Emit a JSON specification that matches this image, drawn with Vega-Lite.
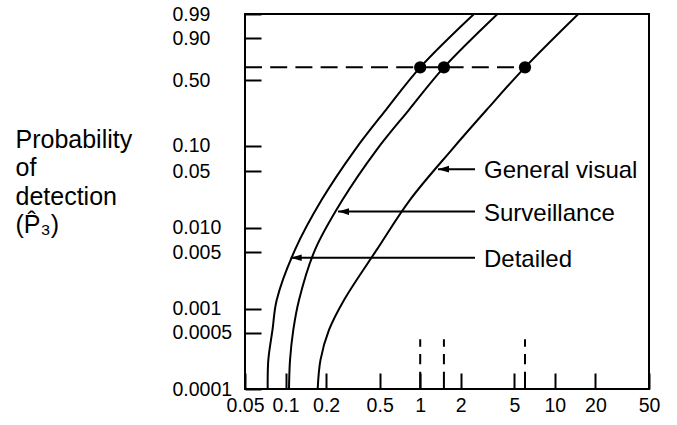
{
  "$schema": "https://vega.github.io/schema/vega-lite/v6.json",
  "width": 404,
  "height": 375,
  "autosize": {"type": "none"},
  "padding": {"left": 245, "top": 14, "right": 28, "bottom": 36},
  "background": "white",
  "config": {
    "view": {"stroke": "black", "strokeWidth": 2},
    "font": "Liberation Sans"
  },
  "datasets": {
    "curves": [
      {"series": "Detailed", "x": 2.508, "q": 4.605},
      {"series": "Detailed", "x": 1.0, "q": 1.0},
      {"series": "Detailed", "x": 0.557, "q": 0.2967},
      {"series": "Detailed", "x": 0.328, "q": 0.0943},
      {"series": "Detailed", "x": 0.1855, "q": 0.0225},
      {"series": "Detailed", "x": 0.1175, "q": 0.00537},
      {"series": "Detailed", "x": 0.086, "q": 0.00128},
      {"series": "Detailed", "x": 0.08, "q": 0.000542},
      {"series": "Detailed", "x": 0.0745, "q": 0.00023},
      {"series": "Detailed", "x": 0.0737, "q": 0.0001},
      {"series": "Surveillance", "x": 3.75, "q": 4.605},
      {"series": "Surveillance", "x": 1.5, "q": 1.0},
      {"series": "Surveillance", "x": 0.8256, "q": 0.2967},
      {"series": "Surveillance", "x": 0.475, "q": 0.0943},
      {"series": "Surveillance", "x": 0.265, "q": 0.0225},
      {"series": "Surveillance", "x": 0.1655, "q": 0.00537},
      {"series": "Surveillance", "x": 0.1259, "q": 0.00128},
      {"series": "Surveillance", "x": 0.1142, "q": 0.000542},
      {"series": "Surveillance", "x": 0.108, "q": 0.00023},
      {"series": "Surveillance", "x": 0.1061, "q": 0.0001},
      {"series": "General visual", "x": 14.93, "q": 4.605},
      {"series": "General visual", "x": 6.0, "q": 1.0},
      {"series": "General visual", "x": 3.117, "q": 0.2967},
      {"series": "General visual", "x": 1.713, "q": 0.0943},
      {"series": "General visual", "x": 0.84, "q": 0.0225},
      {"series": "General visual", "x": 0.475, "q": 0.00537},
      {"series": "General visual", "x": 0.272, "q": 0.00128},
      {"series": "General visual", "x": 0.2102, "q": 0.000542},
      {"series": "General visual", "x": 0.1818, "q": 0.00023},
      {"series": "General visual", "x": 0.1733, "q": 0.0001}
    ],
    "hdash": [{"x": 0.05, "x2": 6, "q": 1.0}],
    "vdash": [
      {"x": 1.0, "q": 0.0001, "q2": 0.000415},
      {"x": 1.5, "q": 0.0001, "q2": 0.000415},
      {"x": 6.0, "q": 0.0001, "q2": 0.000415}
    ],
    "dots": [
      {"series": "Detailed", "x": 1.0, "q": 1.0},
      {"series": "Surveillance", "x": 1.5, "q": 1.0},
      {"series": "General visual", "x": 6.0, "q": 1.0}
    ],
    "arrows": [
      {"label": "General visual", "x": 1.356, "x2": 2.552, "q": 0.05422},
      {"label": "Surveillance", "x": 0.2453, "x2": 2.552, "q": 0.01607},
      {"label": "Detailed", "x": 0.1092, "x2": 2.552, "q": 0.004293}
    ],
    "labels": [
      {"label": "General visual", "x": 2.977, "q": 0.05422},
      {"label": "Surveillance", "x": 2.977, "q": 0.01607},
      {"label": "Detailed", "x": 2.977, "q": 0.004293}
    ]
  },
  "encoding": {
    "x": {
      "field": "x",
      "type": "quantitative",
      "scale": {"type": "log", "domain": [0.05, 50], "nice": false},
      "axis": {
        "values": [0.05, 0.1, 0.2, 0.5, 1, 2, 5, 10, 20, 50],
        "format": "~g",
        "title": null,
        "domain": false,
        "grid": false,
        "ticks": true,
        "tickSize": -16,
        "tickWidth": 2,
        "tickColor": "black",
        "labelPadding": 23,
        "labelFontSize": 19.5,
        "labelFont": "Liberation Sans",
        "labelColor": "black",
        "labelFlush": false,
        "labelOverlap": false
      }
    },
    "y": {
      "field": "q",
      "type": "quantitative",
      "scale": {"type": "log", "domain": [0.0001, 4.60517], "nice": false},
      "axis": {
        "values": [0.0001, 0.00050013, 0.0010005, 0.0050125, 0.0100503, 0.0512933, 0.1053605, 0.693147, 2.302585, 4.60517],
        "labelExpr": "datum.value > 0.04 ? format(1 - exp(-datum.value), '.2f') : (datum.value > 0.0009 ? format(1 - exp(-datum.value), '.3f') : format(1 - exp(-datum.value), '.4f'))",
        "domain": false,
        "grid": false,
        "ticks": true,
        "tickSize": -16,
        "tickWidth": 2,
        "tickColor": "black",
        "labelAlign": "left",
        "labelBaseline": "middle",
        "labelPadding": 89,
        "labelFontSize": 19.5,
        "labelFont": "Liberation Sans",
        "labelColor": "black",
        "labelFlush": false,
        "labelOverlap": false,
        "title": ["Probability", "of", "detection", "(P\u0302\u2083)"],
        "titleAngle": 0,
        "titleAlign": "left",
        "titleBaseline": "alphabetic",
        "titleX": -230,
        "titleY": 133.5,
        "titleFont": "Liberation Sans",
        "titleFontSize": 25,
        "titleFontWeight": "normal",
        "titleLineHeight": 28.3,
        "titleColor": "black"
      }
    }
  },
  "layer": [
    {
      "data": {"name": "curves"},
      "mark": {"type": "line", "interpolate": "catmull-rom", "color": "black", "strokeWidth": 2, "clip": true},
      "encoding": {"detail": {"field": "series", "type": "nominal"}}
    },
    {
      "data": {"name": "hdash"},
      "mark": {"type": "rule", "color": "black", "strokeWidth": 2, "strokeDash": [17, 8.2]},
      "encoding": {"x2": {"field": "x2"}}
    },
    {
      "data": {"name": "vdash"},
      "mark": {"type": "rule", "color": "black", "strokeWidth": 2, "strokeDash": [17.3, 7.4, 10.3, 7.3, 7.4, 60]},
      "encoding": {"y2": {"field": "q2"}}
    },
    {
      "data": {"name": "dots"},
      "mark": {"type": "circle", "size": 150, "color": "black", "opacity": 1}
    },
    {
      "data": {"name": "arrows"},
      "mark": {"type": "rule", "color": "black", "strokeWidth": 2},
      "encoding": {"x2": {"field": "x2"}}
    },
    {
      "data": {"name": "arrows"},
      "mark": {"type": "point", "shape": "M-1,0L1,-0.6L1,0.6Z", "filled": true, "size": 121, "color": "black", "opacity": 1, "strokeWidth": 0, "xOffset": 5.5}
    },
    {
      "data": {"name": "labels"},
      "mark": {"type": "text", "align": "left", "baseline": "middle", "dy": 2, "fontSize": 24, "font": "Liberation Sans", "color": "black"},
      "encoding": {"text": {"field": "label", "type": "nominal"}}
    }
  ]
}
